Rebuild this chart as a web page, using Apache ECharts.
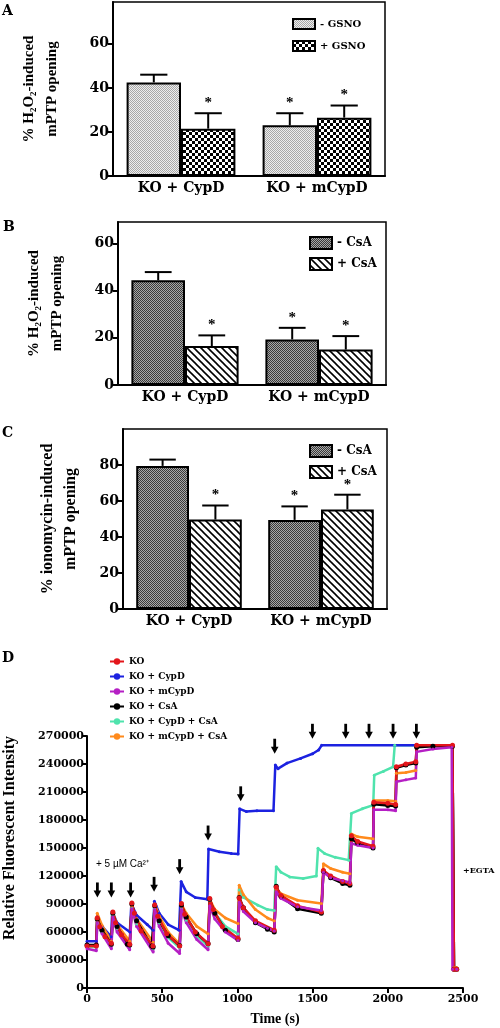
<!DOCTYPE html>
<html><head><meta charset="utf-8">
<script src="https://cdn.jsdelivr.net/npm/echarts@6/dist/echarts.min.js"></script>
<style>html,body{margin:0;padding:0;background:#fff}#c{width:500px;height:1028px}</style>
</head><body><div id="c"></div>
<script>
// ---------- Bar panels data ----------
const barCategories = ['KO + CypD', 'KO + mCypD'];
// Panel A (% H2O2-induced mPTP opening, GSNO)
const aMinusGSNO = [42.5, 23];
const aMinusGSNOErr = [46, 28.5];
const aMinusGSNOStar = [0, 1];
const aPlusGSNO = [21.5, 26.5];
const aPlusGSNOErr = [28.5, 32];
const aPlusGSNOStar = [1, 1];
const aTicks = [0, 20, 40, 60];
// Panel B (% H2O2-induced mPTP opening, CsA)
const bMinusCsA = [44.3, 19.3];
const bMinusCsAErr = [47.8, 24.2];
const bMinusCsAStar = [0, 1];
const bPlusCsA = [16.5, 15];
const bPlusCsAErr = [21, 20.7];
const bPlusCsAStar = [1, 1];
const bTicks = [0, 20, 40, 60];
// Panel C (% ionomycin-induced mPTP opening, CsA)
const cMinusCsA = [79.5, 49.5];
const cMinusCsAErr = [83, 57];
const cMinusCsAStar = [0, 1];
const cPlusCsA = [49.7, 55.3];
const cPlusCsAErr = [57.5, 63.5];
const cPlusCsAStar = [1, 1];
const cTicks = [0, 20, 40, 60, 80];

// ---------- Panel D data: [time (s), fluorescence] ----------
const seriesKO = [[0,45000],[62,45000],[68,75000],[85,65500],[120,55000],[162,48000],[172,81500],[190,70000],[230,57000],[284,47000],[298,91000],[315,80000],[360,61000],[438,45000],[450,89000],[470,77000],[530,58000],[616,45000],[628,90500],[650,79000],[720,60000],[805,47500],[816,96000],[840,84000],[900,66000],[1004,53000],[1012,96500],[1040,86000],[1120,72000],[1245,62000],[1258,108000],[1290,99000],[1400,88000],[1558,81500],[1572,126000],[1620,120000],[1700,114000],[1747,112000],[1758,163000],[1800,157000],[1902,152000],[1907,199000],[2000,198000],[2052,196500],[2057,237000],[2120,240000],[2186,242500],[2192,260000],[2430,260000],[2440,20000],[2458,20000]];
const seriesKOCypD = [[0,50000],[62,50000],[68,76000],[100,66000],[160,55000],[168,82000],[200,70000],[285,60000],[295,90000],[330,78000],[400,68000],[440,62000],[448,93000],[480,80000],[540,68000],[612,62000],[626,114000],[660,103000],[720,97000],[800,95000],[808,149000],[880,146000],[960,144000],[1005,143500],[1015,192000],[1060,189000],[1130,190000],[1240,190000],[1252,239000],[1270,235000],[1330,241000],[1420,246000],[1500,251000],[1540,255000],[1560,260000],[2430,260000],[2440,20000],[2458,20000]];
const seriesKOmCypD = [[0,42000],[62,40000],[68,70000],[100,58000],[162,42000],[172,76000],[200,60000],[284,41000],[298,85000],[330,66000],[440,38600],[450,84000],[480,66000],[540,48000],[616,37000],[628,84000],[660,70000],[730,52000],[805,41000],[816,88000],[850,74000],[920,60000],[1004,51000],[1012,92000],[1040,82000],[1120,70000],[1200,64000],[1245,61000],[1258,103000],[1290,96000],[1400,87000],[1558,83000],[1572,124000],[1620,118000],[1700,115000],[1748,113000],[1758,155000],[1800,153000],[1902,150000],[1907,191000],[2000,191000],[2052,190000],[2057,221000],[2120,223000],[2186,225000],[2192,253000],[2300,256000],[2425,258000],[2430,20000],[2458,20000]];
const seriesKOCsA = [[0,46000],[62,46000],[68,74000],[100,62000],[162,47000],[172,80000],[200,66000],[268,47000],[284,46000],[298,90000],[330,72000],[430,45000],[440,44000],[450,88000],[480,72000],[540,56000],[616,45500],[628,89000],[660,76000],[730,58000],[805,47500],[816,95000],[850,80000],[920,62000],[1004,52000],[1012,97000],[1040,86000],[1120,70000],[1200,63000],[1245,60000],[1258,109000],[1290,98000],[1400,85000],[1558,80000],[1572,125000],[1620,118000],[1700,112000],[1748,110000],[1758,160000],[1800,155000],[1902,150000],[1907,197000],[2000,195500],[2052,195000],[2057,236000],[2120,239000],[2186,241000],[2192,258000],[2300,259000],[2430,259000],[2440,20000],[2458,20000]];
const seriesKOCypDCsA = [[0,44000],[62,44000],[68,70000],[100,60000],[162,46000],[172,78000],[200,64000],[284,45000],[298,86000],[330,68000],[440,42000],[450,85000],[480,70000],[540,54000],[616,43000],[628,85000],[660,72000],[730,56000],[805,45000],[816,94000],[850,80000],[920,66000],[1004,58000],[1012,105000],[1040,97000],[1136,88700],[1200,84000],[1245,83000],[1258,130000],[1290,124000],[1348,119000],[1437,117300],[1525,120000],[1536,149600],[1580,144000],[1650,140000],[1740,137000],[1758,187000],[1830,192000],[1903,196000],[1910,228000],[1970,232000],[2035,237000],[2046,260000],[2430,260000],[2440,20000],[2458,20000]];
const seriesKOmCypDCsA = [[0,45000],[62,45000],[68,80000],[100,67000],[162,50000],[172,81000],[200,68000],[284,50000],[298,88000],[330,74000],[440,49000],[450,90000],[480,77000],[540,60000],[616,47000],[628,90000],[660,80000],[730,66000],[805,58000],[816,95000],[850,84000],[920,75000],[1004,69000],[1012,110000],[1040,100000],[1120,84000],[1200,75000],[1245,72000],[1258,106000],[1290,101000],[1400,94000],[1558,90500],[1572,133000],[1620,128000],[1700,124000],[1748,122500],[1758,165000],[1800,162000],[1902,160000],[1907,201000],[2000,201000],[2052,200000],[2057,230000],[2120,231000],[2186,233000],[2192,260000],[2430,260000],[2440,22000],[2458,22000]];
// Ca2+ addition arrows (tip position)
const arrowTimes = [69, 162, 290, 446, 616, 805, 1022, 1248, 1499, 1720, 1875, 2035, 2190];
const arrowValues = [97000, 97000, 97000, 103000, 122000, 158000, 200000, 251000, 267000, 267000, 267000, 267000, 267000];
const lineNames = ['KO', 'KO + CypD', 'KO + mCypD', 'KO + CsA', 'KO + CypD + CsA', 'KO + mCypD + CsA'];

// ---------- patterns ----------
function pattern(kind) {
  const c = document.createElement('canvas');
  const ctx = c.getContext('2d');
  if (kind === 'stipple') {
    c.width = 2; c.height = 2;
    ctx.fillStyle = '#eeeeee'; ctx.fillRect(0, 0, 2, 2);
    ctx.fillStyle = '#a8a8a8'; ctx.fillRect(0, 0, 1, 1); ctx.fillRect(1, 1, 1, 1);
  } else if (kind === 'checker') {
    c.width = 6; c.height = 6;
    ctx.fillStyle = '#000'; ctx.fillRect(0, 0, 6, 6);
    ctx.fillStyle = '#fff'; ctx.fillRect(0, 0, 3, 3); ctx.fillRect(3, 3, 3, 3);
  } else if (kind === 'dark') {
    c.width = 2; c.height = 2;
    ctx.fillStyle = '#a8a8a8'; ctx.fillRect(0, 0, 2, 2);
    ctx.fillStyle = '#3a3a3a'; ctx.fillRect(0, 0, 1, 1); ctx.fillRect(1, 1, 1, 1);
  } else {
    c.width = 7; c.height = 7;
    ctx.fillStyle = '#fff'; ctx.fillRect(0, 0, 7, 7);
    ctx.strokeStyle = '#000'; ctx.lineWidth = 1.6;
    for (let k = -1; k <= 1; k++) {
      ctx.beginPath(); ctx.moveTo(-1, 7 * k - 1); ctx.lineTo(8, 7 * k + 8); ctx.stroke();
    }
  }
  return { image: c, repeat: 'repeat' };
}
const patStipple = pattern('stipple'), patChecker = pattern('checker');
const patDark = pattern('dark'), patHatch = pattern('hatch');

const serif = 'DejaVu Serif';
const tserif = 'Liberation Serif';

function errData(vals, errs, stars, g) {
  return vals.map((v, i) => [i, g, v, errs[i], stars[i]]);
}
function errRender(params, api) {
  const cat = api.value(0), g = api.value(1), v = api.value(2), e = api.value(3), s = api.value(4);
  const catW = api.size([1, 0])[0];
  const cx = api.coord([cat, 0])[0] + (g === 0 ? -0.2 : 0.2) * catW;
  const y0 = api.coord([cat, v])[1];
  const y1 = api.coord([cat, e])[1];
  const half = 0.1 * catW;
  const ch = [
    { type: 'line', shape: { x1: cx, y1: y0, x2: cx, y2: y1 }, style: { stroke: '#000', lineWidth: 2 } },
    { type: 'line', shape: { x1: cx - half, y1: y1, x2: cx + half, y2: y1 }, style: { stroke: '#000', lineWidth: 2 } }
  ];
  if (s) ch.push({ type: 'text', style: { text: '*', x: cx, y: y1 - 10, textAlign: 'center', textVerticalAlign: 'middle', align: 'center', verticalAlign: 'middle', font: 'bold 15px "Liberation Serif"', fill: '#000' } });
  return { type: 'group', children: ch };
}
function arrowRender(params, api) {
  const p = api.coord([api.value(0), api.value(1)]);
  return { type: 'group', children: [
    { type: 'rect', shape: { x: p[0] - 1.4, y: p[1] - 15, width: 2.8, height: 9 }, style: { fill: '#000' } },
    { type: 'polygon', shape: { points: [[p[0] - 3.8, p[1] - 7], [p[0] + 3.8, p[1] - 7], [p[0], p[1]]] }, style: { fill: '#000' } }
  ] };
}

function catAxis(gi) {
  return { type: 'category', gridIndex: gi, data: barCategories,
    axisLine: { show: true, lineStyle: { color: '#000', width: 2 } }, axisTick: { show: false },
    axisLabel: { color: '#000', fontFamily: serif, fontWeight: 'bold', fontSize: 14, margin: 5 } };
}
function valAxis(gi, max, ticks, name, gap, fs) {
  return { type: 'value', gridIndex: gi, min: 0, max: max, splitLine: { show: false },
    axisLine: { show: true, lineStyle: { color: '#000', width: 2 } },
    axisTick: { show: true, length: 5, lineStyle: { color: '#000', width: 2 }, customValues: ticks },
    axisLabel: { color: '#000', fontFamily: serif, fontWeight: 'bold', fontSize: 14, margin: 4, customValues: ticks },
    name: name, nameLocation: 'middle', nameGap: gap,
    nameTextStyle: { color: '#000', fontFamily: tserif, fontWeight: 'bold', fontSize: fs, lineHeight: 23 } };
}
function barSeries(name, data, color, gi) {
  return { type: 'bar', name: name, data: data, xAxisIndex: gi, yAxisIndex: gi, barGap: '0%', barCategoryGap: '20%',
    itemStyle: { color: color, borderColor: '#000', borderWidth: 2 }, z: 2 };
}
function errSeries(name, data, gi) {
  return { type: 'custom', name: name, data: data, xAxisIndex: gi, yAxisIndex: gi, renderItem: errRender,
    encode: { x: 0, y: 3 }, clip: false, z: 5, silent: true };
}
const lineColors = { 'KO': '#e3161b', 'KO + CypD': '#1c22e0', 'KO + mCypD': '#b51fc4', 'KO + CsA': '#000000', 'KO + CypD + CsA': '#4fe3ad', 'KO + mCypD + CsA': '#ff8a1c' };
function lineSeries(name, data, size) {
  return { type: 'line', name: name, data: data, xAxisIndex: 3, yAxisIndex: 3, symbol: 'circle', symbolSize: size, showSymbol: true,
    color: lineColors[name], lineStyle: { width: 2.5, color: lineColors[name] }, itemStyle: { color: lineColors[name] } };
}
const legText = (fs) => ({ color: '#000', fontFamily: serif, fontWeight: 'bold', fontSize: fs });
const plain = (v) => String(v);

const option = {
  animation: false,
  backgroundColor: '#fff',
  grid: [
    { left: 113, top: 2, width: 272, height: 174, show: true, borderColor: '#000', borderWidth: 1.5 },
    { left: 118, top: 222, width: 268, height: 163, show: true, borderColor: '#000', borderWidth: 1.5 },
    { left: 123, top: 429, width: 264, height: 180, show: true, borderColor: '#000', borderWidth: 1.5 },
    { left: 87, top: 736, width: 376, height: 252 }
  ],
  xAxis: [
    catAxis(0), catAxis(1), catAxis(2),
    { type: 'value', gridIndex: 3, min: 0, max: 2500, interval: 500, splitLine: { show: false },
      axisLine: { show: true, lineStyle: { color: '#000', width: 2 } },
      axisTick: { show: true, length: 5, lineStyle: { color: '#000', width: 2 } },
      axisLabel: { color: '#000', fontFamily: serif, fontWeight: 'bold', fontSize: 11, margin: 6, formatter: plain },
      name: 'Time (s)', nameLocation: 'middle', nameGap: 24,
      nameTextStyle: { color: '#000', fontFamily: tserif, fontWeight: 'bold', fontSize: 14 } }
  ],
  yAxis: [
    valAxis(0, 79, aTicks, '% H\u2082O\u2082-induced\nmPTP opening', 49, 15),
    valAxis(1, 69, bTicks, '% H\u2082O\u2082-induced\nmPTP opening', 49, 15),
    valAxis(2, 100, cTicks, '% ionomycin-induced\nmPTP opening', 41, 16),
    { type: 'value', gridIndex: 3, min: 0, max: 270000, interval: 30000, splitLine: { show: false },
      axisLine: { show: true, lineStyle: { color: '#000', width: 2 } },
      axisTick: { show: true, length: 5, lineStyle: { color: '#000', width: 2 } },
      axisLabel: { color: '#000', fontFamily: serif, fontWeight: 'bold', fontSize: 11, margin: 3, formatter: plain } }
  ],
  legend: [
    { data: ['- GSNO', '+ GSNO'], orient: 'vertical', left: 287, top: 13, itemWidth: 22, itemHeight: 10, itemGap: 10, icon: 'rect', selectedMode: false, textStyle: Object.assign(legText(10), { lineHeight: 10 }) },
    { data: ['- CsA', '+ CsA'], orient: 'vertical', left: 304, top: 231, itemWidth: 22, itemHeight: 12, itemGap: 7, icon: 'rect', selectedMode: false, textStyle: Object.assign(legText(12), { lineHeight: 12 }) },
    { data: ['- CsA', '+ CsA'], orient: 'vertical', left: 304, top: 439, itemWidth: 22, itemHeight: 12, itemGap: 7, icon: 'rect', selectedMode: false, textStyle: Object.assign(legText(12), { lineHeight: 12 }) },
    { data: lineNames, orient: 'vertical', left: 104, top: 652, itemWidth: 14, itemHeight: 8, itemGap: 6, selectedMode: false, textStyle: Object.assign(legText(9), { lineHeight: 8 }) }
  ],
  graphic: [
    { type: 'text', left: 2, top: 4, style: { text: 'A', font: 'bold 14px "DejaVu Serif"', fill: '#000' } },
    { type: 'text', left: 3, top: 220, style: { text: 'B', font: 'bold 14px "DejaVu Serif"', fill: '#000' } },
    { type: 'text', left: 2, top: 426, style: { text: 'C', font: 'bold 14px "DejaVu Serif"', fill: '#000' } },
    { type: 'text', left: 2, top: 651, style: { text: 'D', font: 'bold 14px "DejaVu Serif"', fill: '#000' } },
    { type: 'text', x: 10, y: 838, rotation: Math.PI / 2, style: { text: 'Relative Fluorescent Intensity', font: 'bold 16px "Liberation Serif"', fill: '#000', textAlign: 'center', textVerticalAlign: 'middle', align: 'center', verticalAlign: 'middle' } },
    { type: 'text', left: 96, top: 859, style: { text: '+ 5 \u00B5M Ca\u00B2\u207A', font: '10px "Liberation Sans"', fill: '#000' } },
    { type: 'text', left: 463, top: 867, style: { text: '+EGTA', font: 'bold 8px "DejaVu Serif"', fill: '#000' } }
  ],
  series: [
    barSeries('- GSNO', aMinusGSNO, patStipple, 0),
    barSeries('+ GSNO', aPlusGSNO, patChecker, 0),
    errSeries('errA1', errData(aMinusGSNO, aMinusGSNOErr, aMinusGSNOStar, 0), 0),
    errSeries('errA2', errData(aPlusGSNO, aPlusGSNOErr, aPlusGSNOStar, 1), 0),
    barSeries('- CsA', bMinusCsA, patDark, 1),
    barSeries('+ CsA', bPlusCsA, patHatch, 1),
    errSeries('errB1', errData(bMinusCsA, bMinusCsAErr, bMinusCsAStar, 0), 1),
    errSeries('errB2', errData(bPlusCsA, bPlusCsAErr, bPlusCsAStar, 1), 1),
    barSeries('- CsA', cMinusCsA, patDark, 2),
    barSeries('+ CsA', cPlusCsA, patHatch, 2),
    errSeries('errC1', errData(cMinusCsA, cMinusCsAErr, cMinusCsAStar, 0), 2),
    errSeries('errC2', errData(cPlusCsA, cPlusCsAErr, cPlusCsAStar, 1), 2),
    lineSeries('KO + CypD + CsA', seriesKOCypDCsA, 3),
    lineSeries('KO + CypD', seriesKOCypD, 3),
    lineSeries('KO + mCypD + CsA', seriesKOmCypDCsA, 3),
    lineSeries('KO + CsA', seriesKOCsA, 5),
    lineSeries('KO', seriesKO, 5),
    lineSeries('KO + mCypD', seriesKOmCypD, 3),
    { type: 'custom', name: 'Ca additions', xAxisIndex: 3, yAxisIndex: 3, data: arrowTimes.map((t, i) => [t, arrowValues[i]]),
      renderItem: arrowRender, encode: { x: 0, y: 1 }, clip: false, z: 6, silent: true }
  ]
};
const chart = echarts.init(document.getElementById('c'), null, { renderer: 'canvas' });
chart.setOption(option);
</script>
</body></html>
